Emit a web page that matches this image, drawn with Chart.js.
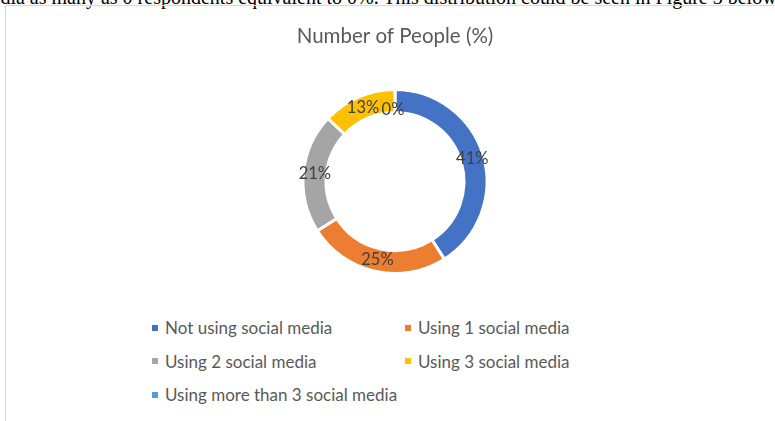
<!DOCTYPE html>
<html>
<head>
<meta charset="utf-8">
<title>Number of People (%)</title>
<script src="https://cdn.jsdelivr.net/npm/chart.js@4.4.1/dist/chart.umd.min.js"></script>
<style>
  html, body { margin: 0; padding: 0; background: #fff; overflow: hidden; }
  body { width: 775px; height: 421px; position: relative; }

  .lead {
    position: absolute; left: -24px; top: -13px;
    font: 20px "Liberation Serif", "Times New Roman", serif;
    line-height: 20px; white-space: nowrap; color: #000;
  }
  .frame {
    position: absolute; left: 5px; top: 5px; width: 820px; height: 460px;
    border-left: 1px solid #d9d9d9; border-top: 1px solid #d9d9d9;
  }
  #chartWrap { position: absolute; left: 6px; top: 0; width: 769px; height: 275px; }

  .legend {
    position: absolute; left: 152px; top: 311px;
    display: grid; grid-template-columns: 253px 220px; grid-auto-rows: 33.5px;
    font: 17px "Lato", "Open Sans", sans-serif; color: #595959;
  }
  .legend .item { display: flex; align-items: center; white-space: nowrap; }
  .legend .box { width: 6px; height: 6px; margin-right: 7px; flex: none; }
</style>
</head>
<body>
<div class="lead">media as many as 0 respondents equivalent to 0%. This distribution could be seen in Figure 3 below.</div>
<div class="frame"></div>
<div id="chartWrap"><canvas id="peopleChart"></canvas></div>
<div class="legend" id="legend"></div>

<script>
// ── Data ─────────────────────────────────────────────────────────────────────
const categories = [
    'Not using social media',
    'Using 1 social media',
    'Using 2 social media',
    'Using 3 social media',
    'Using more than 3 social media',
];
const percentages = [41, 25, 21, 13, 0];
const sliceColors = ['#4472C4', '#ED7D31', '#A5A5A5', '#FFC000', '#5B9BD5'];

// ── Value labels sitting on the ring ─────────────────────────────────────────
const ringLabels = {
    id: 'ringLabels',
    afterDatasetsDraw(chart) {
        const { ctx } = chart;
        const meta = chart.getDatasetMeta(0);
        ctx.save();
        ctx.font = '16.5px Lato, "Open Sans", sans-serif';
        ctx.fillStyle = '#404040';
        ctx.textAlign = 'center';
        ctx.textBaseline = 'middle';
        meta.data.forEach((arc, i) => {
            const p = arc.getProps(['x', 'y', 'startAngle', 'endAngle', 'innerRadius', 'outerRadius'], true);
            const mid = (p.startAngle + p.endAngle) / 2;
            const value = chart.data.datasets[0].data[i];
            // an empty slice has no room, so its label goes just inside the hole edge
            const r = value === 0 ? p.innerRadius + 3 : (p.innerRadius + p.outerRadius) / 2;
            const x = p.x + Math.cos(mid) * r - (value === 0 ? 2 : 0);
            const y = p.y + Math.sin(mid) * r;
            ctx.fillText(value + '%', x, y);
        });
        ctx.restore();
    },
};

// ── Chart ────────────────────────────────────────────────────────────────────
const chart = new Chart(document.getElementById('peopleChart'), {
    type: 'doughnut',
    data: {
        labels: categories,
        datasets: [{
            data:            percentages,
            backgroundColor: sliceColors,
            borderColor:     '#ffffff',
            borderWidth:     3,
        }],
    },
    options: {
        responsive:          true,
        maintainAspectRatio: false,
        animation:           false,
        events:              [],
        cutout:              '75%',
        layout: { padding: { left: 9, right: 0, top: 0, bottom: 0 } },
        plugins: {
            legend:  { display: false },
            tooltip: { enabled: false },
            title: {
                display: true,
                text:    'Number of People (%)',
                color:   '#595959',
                font:    { family: 'Lato, "Open Sans", sans-serif', size: 20.5, weight: 'normal', lineHeight: 1.2 },
                padding: { top: 24, bottom: 39.4 },
            },
        },
    },
    plugins: [ringLabels],
});

// ── Legend (two columns) ─────────────────────────────────────────────────────
const legendEl = document.getElementById('legend');
chart.data.labels.forEach((label, i) => {
    const item = document.createElement('div');
    item.className = 'item';
    const box = document.createElement('span');
    box.className = 'box';
    box.style.background = chart.data.datasets[0].backgroundColor[i];
    const text = document.createElement('span');
    text.textContent = label;
    item.append(box, text);
    legendEl.appendChild(item);
});
</script>
</body>
</html>
